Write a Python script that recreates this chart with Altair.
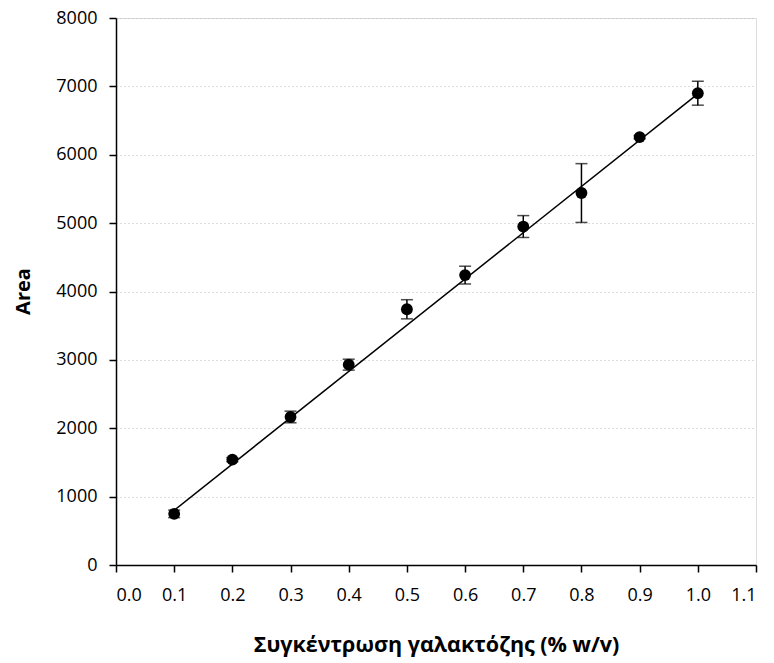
import altair as alt
import pandas as pd

# Data
conc = [0.1, 0.2, 0.3, 0.4, 0.5, 0.6, 0.7, 0.8, 0.9, 1.0]
area = [748, 1541, 2165, 2930, 3740, 4240, 4950, 5440, 6258, 6900]
err = [55, 30, 85, 80, 140, 130, 160, 430, 25, 175]

# Trend line end points
trend_x = [0.1, 1.0]
trend_y = [800, 6890]

x_ticks = [0.0, 0.1, 0.2, 0.3, 0.4, 0.5, 0.6, 0.7, 0.8, 0.9, 1.0, 1.1]
y_ticks = [0, 1000, 2000, 3000, 4000, 5000, 6000, 7000, 8000]

df = pd.DataFrame({"x": conc, "y": area, "err": err})
df["lo"] = df["y"] - df["err"]
df["hi"] = df["y"] + df["err"]
trend_df = pd.DataFrame({"x": trend_x, "y": trend_y})

FONT = "Open Sans"

x_scale = alt.Scale(domain=[0, 1.1], nice=False, zero=False)
y_scale = alt.Scale(domain=[0, 8000], nice=False)

x_axis = alt.Axis(
    title="Συγκέντρωση γαλακτόζης (% w/v)",
    values=x_ticks, format=".1f", grid=False,
    domainColor="black", domainWidth=1.5, tickColor="black", tickWidth=1.5,
    tickSize=7, labelPadding=14, labelFont=FONT, labelFontSize=18,
    labelColor="black", titleFont=FONT, titleFontSize=21.5, titleFontWeight="bold",
    titleColor="black", titleY=86, titleBaseline="alphabetic",
)
y_axis = alt.Axis(
    title="Area",
    values=y_ticks, format="d", grid=True, gridDash=[1, 3], gridColor="#bbbbbb",
    gridWidth=1,
    domainColor="black", domainWidth=1.5, tickColor="black", tickWidth=1.5,
    tickSize=7, labelPadding=12, labelFont=FONT, labelFontSize=18,
    labelColor="black", titleFont=FONT, titleFontSize=20, titleFontWeight="bold",
    titleColor="black", titleX=-87, titleY=273, titleBaseline="alphabetic",
    titleAngle=-90, titleAlign="center",
)

line = alt.Chart(trend_df).mark_line(color="black", strokeWidth=1.5).encode(
    x=alt.X("x:Q", scale=x_scale, axis=x_axis),
    y=alt.Y("y:Q", scale=y_scale, axis=y_axis),
)

base = alt.Chart(df)

bars = base.mark_rule(color="black", strokeWidth=1.5).encode(
    x=alt.X("x:Q", scale=x_scale),
    y=alt.Y("lo:Q", scale=y_scale),
    y2="hi:Q",
)

cap_hi = base.mark_tick(color="black", thickness=1.5, size=12, orient="horizontal").encode(
    x=alt.X("x:Q", scale=x_scale),
    y=alt.Y("hi:Q", scale=y_scale),
)
cap_lo = base.mark_tick(color="black", thickness=1.5, size=12, orient="horizontal").encode(
    x=alt.X("x:Q", scale=x_scale),
    y=alt.Y("lo:Q", scale=y_scale),
)

pts = base.mark_point(filled=True, color="black", size=140, opacity=1, shape="circle").encode(
    x=alt.X("x:Q", scale=x_scale),
    y=alt.Y("y:Q", scale=y_scale),
)

chart = alt.layer(line, bars, cap_hi, cap_lo, pts).properties(
    width=640,
    height=547,
    autosize=alt.AutoSizeParams(type="none"),
    padding={"left": 108, "top": 10, "right": 10, "bottom": 97},
).configure_view(stroke=None).configure(background="white")

chart.save("out.html", embed_options={"renderer": "svg", "actions": False})
